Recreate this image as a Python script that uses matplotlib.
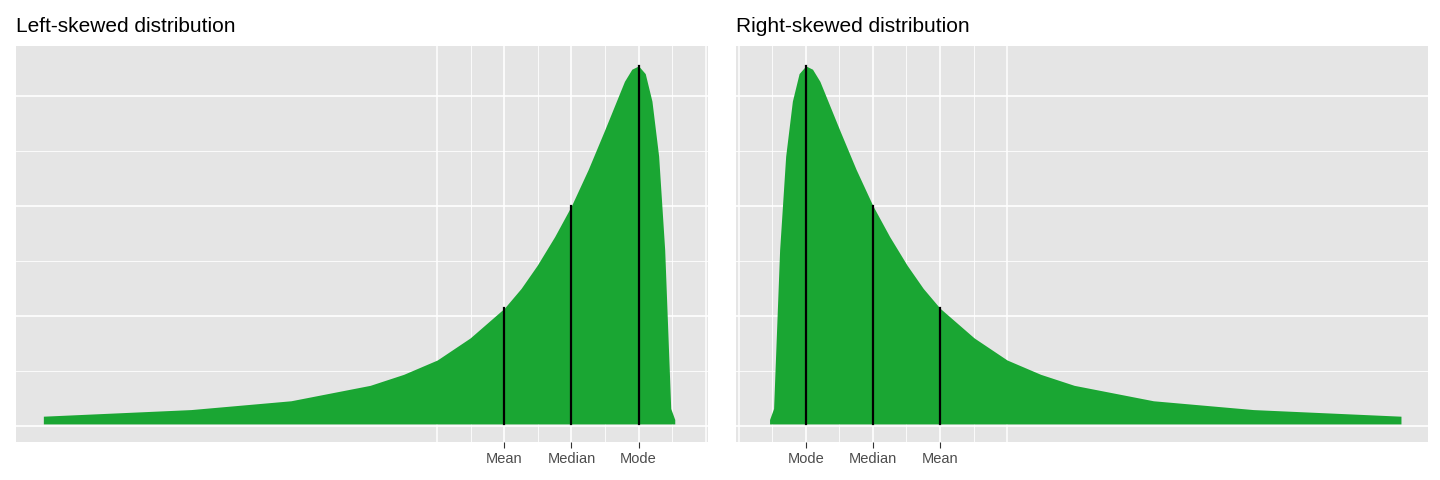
import numpy as np
import matplotlib.pyplot as plt

# right-skewed curve (x: Mode=1, Median=2, Mean=3)
curve_x = [0.46, 0.52, 0.61, 0.70, 0.80, 0.90, 1.00, 1.10, 1.21, 1.35, 1.51, 1.75, 2.00,
           2.25, 2.51, 2.75, 3.00, 3.51, 4.00, 4.50, 5.00, 6.18, 7.67, 9.87]
curve_y = [0.06, 0.16, 1.60, 2.45, 2.95, 3.20, 3.27, 3.24, 3.13, 2.92, 2.68, 2.33, 2.00,
           1.72, 1.46, 1.25, 1.07, 0.80, 0.60, 0.47, 0.37, 0.23, 0.15, 0.09]
marks = [1, 2, 3]
mark_h = [3.27, 2.00, 1.07]
right_labels = ['Mode', 'Median', 'Mean']
left_labels = ['Mean', 'Median', 'Mode']

green = '#1aa633'
plt.rcParams['font.family'] = ['Liberation Sans', 'DejaVu Sans']
fig, axs = plt.subplots(1, 2, figsize=(14.4, 4.8), dpi=100)
fig.subplots_adjust(left=0.011, right=0.992, top=0.904, bottom=0.079, wspace=0.04)

x = np.array(curve_x)
y = np.array(curve_y)
for ax, sign, title, labels in [(axs[0], -1, 'Left-skewed distribution', left_labels),
                                (axs[1], 1, 'Right-skewed distribution', right_labels)]:
    ax.set_facecolor('#e5e5e5')
    xs = sign * x
    ax.fill_between(xs, 0.02, y, color=green, lw=0, zorder=2)
    for m, h in zip(marks, mark_h):
        ax.plot([sign * m, sign * m], [0.02, h], color='black', lw=1.6, zorder=3)
    ticks = sorted(sign * np.array(marks))
    ax.set_xticks(ticks)
    ax.set_xticklabels(labels, fontsize=10.5, color='#4d4d4d')
    ax.set_xticks([sign * v for v in [0.5, 1.5, 2.5, 3.5]], minor=True)
    for v in [0, 4]:
        ax.axvline(sign * v, color='white', lw=1.1, zorder=1)
    ax.set_yticks([0, 1, 2, 3])
    ax.set_yticks([0.5, 1.5, 2.5], minor=True)
    ax.set_yticklabels([])
    ax.tick_params(axis='y', which='both', length=0)
    ax.tick_params(axis='x', which='major', length=4, color='#333333', pad=3)
    ax.tick_params(axis='x', which='minor', length=0)
    ax.grid(which='major', color='white', lw=1.2, zorder=1)
    ax.grid(which='minor', color='white', lw=0.6, zorder=1)
    ax.set_axisbelow(True)
    for s in ax.spines.values():
        s.set_visible(False)
    if sign > 0:
        ax.set_xlim(-0.04, 10.28)
    else:
        ax.set_xlim(-10.28, 0.04)
    ax.set_ylim(-0.145, 3.45)
    ax.set_title(title, loc='left', fontsize=15, pad=10)

fig.savefig('out.png')
